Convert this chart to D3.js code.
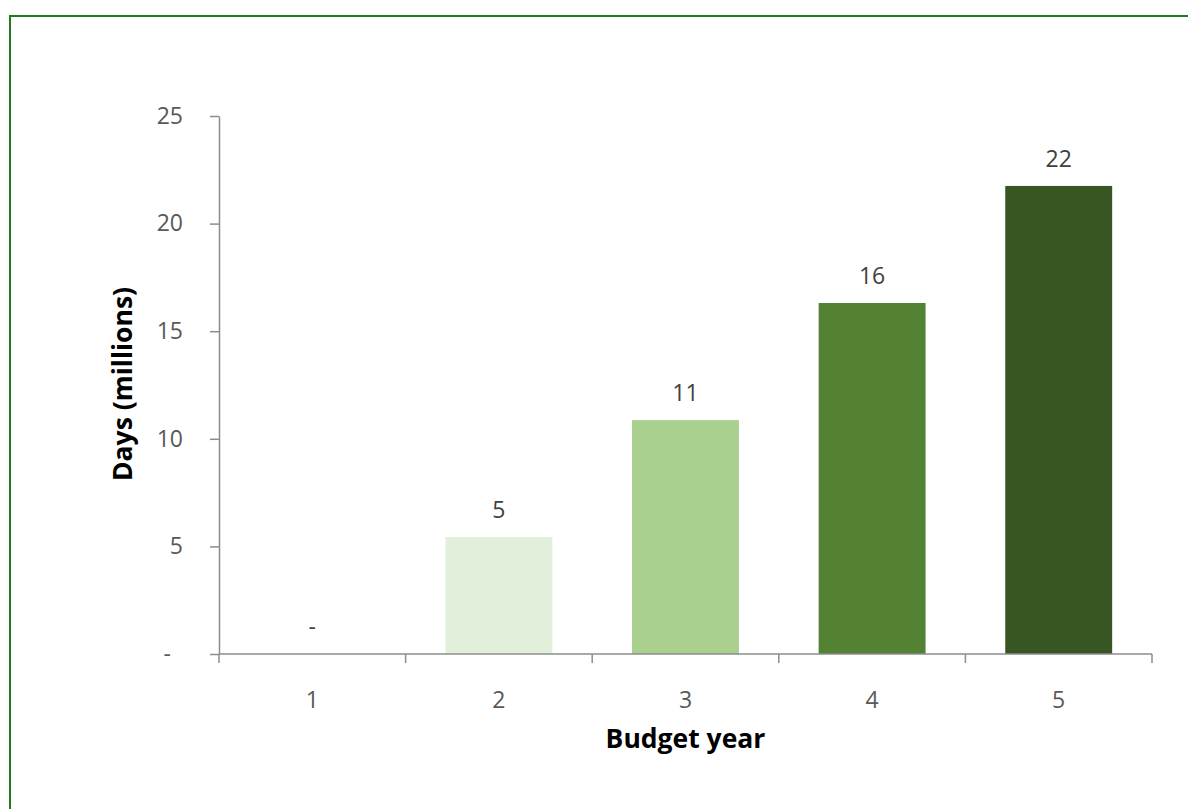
<!DOCTYPE html>
<html>
<head>
<meta charset="utf-8">
<script src="https://cdn.jsdelivr.net/npm/d3@7"></script>
<style>
  html, body { margin: 0; padding: 0; background: #fff; }
  svg { display: block; }
</style>
</head>
<body>
<script>
// Days required per budget year (millions)
const years = ["1", "2", "3", "4", "5"];
const days = [0, 5.44, 10.87, 16.31, 21.75];
const barColors = ["#e2efda", "#e2efda", "#a9d08e", "#548235", "#375623"];
const yTicks = [0, 5, 10, 15, 20, 25];

const W = 1188, H = 809;
const plot = { left: 219, right: 1152, top: 116, bottom: 654 };

const svg = d3.select("body").append("svg")
  .attr("width", W).attr("height", H);

// outer frame
svg.append("rect")
  .attr("x", 10).attr("y", 16)
  .attr("width", 1200).attr("height", 900)
  .attr("fill", "none")
  .attr("stroke", "#1e7b1e")
  .attr("stroke-width", 2);

const pad = 0.427;
const x = d3.scaleBand()
  .domain(years)
  .range([plot.left, plot.right])
  .paddingInner(pad)
  .paddingOuter(pad / 2);

const y = d3.scaleLinear()
  .domain([0, 25])
  .range([plot.bottom, plot.top]);

const tickFont = "'Open Sans', sans-serif";
const axisColor = "#8c8c8c";

// y axis
const yAxis = svg.append("g")
  .attr("transform", `translate(${plot.left},0)`)
  .call(d3.axisLeft(y)
    .tickValues(yTicks)
    .tickSize(9)
    .tickSizeOuter(0)
    .tickPadding(27)
    .tickFormat(d => d === 0 ? "-" : d3.format("d")(d)));
yAxis.select(".domain").attr("stroke", axisColor).attr("stroke-width", 1.5);
yAxis.selectAll(".tick line").attr("stroke", axisColor).attr("stroke-width", 1.5);
yAxis.selectAll(".tick text")
  .attr("font-family", tickFont)
  .attr("font-size", 23)
  .attr("fill", "#595959")
  .attr("dx", d => d === 0 ? -12 : 0);

// bars
svg.append("g").selectAll("rect")
  .data(days)
  .join("rect")
  .attr("x", (d, i) => x(years[i]))
  .attr("width", x.bandwidth())
  .attr("y", d => y(d))
  .attr("height", d => y(0) - y(d))
  .attr("fill", (d, i) => barColors[i]);

// x axis: baseline, boundary ticks and category labels
const xAxis = svg.append("g")
  .attr("transform", `translate(0,${plot.bottom})`)
  .call(d3.axisBottom(x).tickSize(0).tickPadding(38));
xAxis.select(".domain").remove();
xAxis.selectAll(".tick text")
  .attr("font-family", tickFont)
  .attr("font-size", 23)
  .attr("fill", "#595959");
xAxis.append("line")
  .attr("x1", plot.left).attr("x2", plot.right)
  .attr("y1", 0).attr("y2", 0)
  .attr("stroke", axisColor).attr("stroke-width", 1.5);
xAxis.selectAll(".bound")
  .data(d3.range(years.length + 1))
  .join("line")
  .attr("class", "bound")
  .attr("x1", i => plot.left + i * x.step())
  .attr("x2", i => plot.left + i * x.step())
  .attr("y1", 0).attr("y2", 9)
  .attr("stroke", axisColor).attr("stroke-width", 1.5);

// value labels
const fmt = v => Math.round(v) === 0 ? "-" : d3.format(",.0f")(v);
svg.append("g").selectAll("text")
  .data(days)
  .join("text")
  .attr("x", (d, i) => x(years[i]) + x.bandwidth() / 2)
  .attr("y", d => y(d) - 19)
  .attr("text-anchor", "middle")
  .attr("font-family", tickFont)
  .attr("font-size", 23)
  .attr("fill", "#404040")
  .text(fmt);

// axis titles
svg.append("text")
  .attr("x", (plot.left + plot.right) / 2)
  .attr("y", 748)
  .attr("text-anchor", "middle")
  .attr("font-family", tickFont)
  .attr("font-weight", "bold")
  .attr("font-size", 26.5)
  .attr("fill", "#000")
  .text("Budget year");

svg.append("text")
  .attr("transform", `translate(132,${(plot.top + plot.bottom) / 2 - 1}) rotate(-90)`)
  .attr("text-anchor", "middle")
  .attr("font-family", tickFont)
  .attr("font-weight", "bold")
  .attr("font-size", 26.5)
  .attr("fill", "#000")
  .text("Days (millions)");
</script>
</body>
</html>
